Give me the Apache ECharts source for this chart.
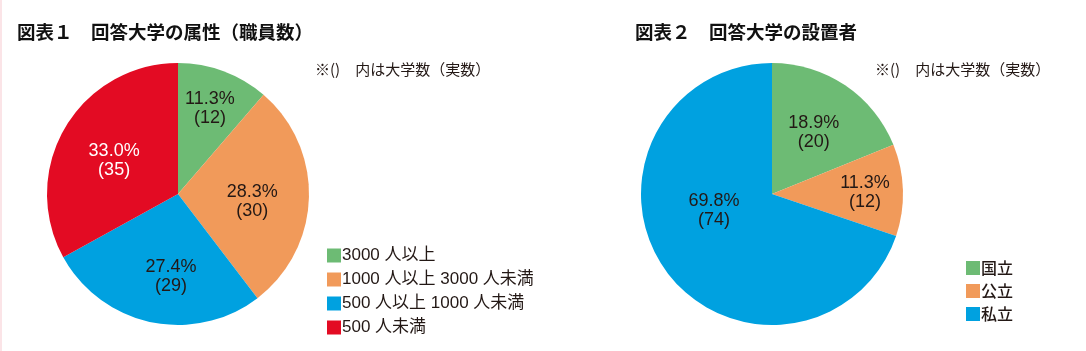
<!DOCTYPE html>
<html>
<head>
<meta charset="utf-8">
<script src="https://cdn.jsdelivr.net/npm/echarts@6/dist/echarts.min.js"></script>
<style>
html,body{margin:0;padding:0;background:#fff;}
#c{width:1086px;height:351px;}
</style>
</head>
<body>
<div id="c"></div>
<script>
// ---- data ----
const title1 = '図表１　回答大学の属性（職員数）';
const title2 = '図表２　回答大学の設置者';
const noteText = '※()　内は大学数（実数）';
const cats1 = ['3000 人以上', '1000 人以上 3000 人未満', '500 人以上 1000 人未満', '500 人未満'];
const vals1 = [12, 30, 29, 35];
const cats2 = ['国立', '公立', '私立'];
const vals2 = [20, 12, 74];

// ---- styles / layout ----
const colors1 = ['#6dbb74', '#f19a5a', '#00a1e0', '#e30b23'];
const colors2 = ['#6dbb74', '#f19a5a', '#00a1e0'];
const labelColors1 = ['#231815', '#231815', '#231815', '#ffffff'];
const labelColors2 = ['#231815', '#231815', '#231815'];
// [radial factor, angle shift in degrees] for label placement
const place1 = [[0.70, 0], [0.57, 4], [0.63, -7], [0.55, -3]];
const place2 = [[0.57, 0], [0.71, 1], [0.46, 20]];
const center1 = [178, 194], center2 = [772, 194], R = 131;
const numFont = '"Liberation Sans", "Noto Sans CJK JP", sans-serif';
const jpFont = '"Noto Sans CJK JP", sans-serif';

function sum(a) { return a.reduce((s, v) => s + v, 0); }

function makeLayout(vals, center, r, place) {
  const total = sum(vals);
  return function (p) {
    const i = p.dataIndex;
    let cum = 0;
    for (let k = 0; k < i; k++) cum += vals[k];
    const ang = ((cum + vals[i] / 2) / total * 360 + place[i][1]) * Math.PI / 180;
    const d = place[i][0] * r;
    return { x: center[0] + d * Math.sin(ang), y: center[1] - d * Math.cos(ang), align: 'center', verticalAlign: 'middle' };
  };
}

function makeData(cats, vals, colors, labelColors) {
  return cats.map((c, i) => ({
    name: c, value: vals[i],
    itemStyle: { color: colors[i] },
    label: { color: labelColors[i], rich: { p: { color: labelColors[i] }, n: { color: labelColors[i] } } }
  }));
}

function makeSeries(cats, vals, colors, labelColors, center, place) {
  const total = sum(vals);
  return {
    type: 'pie',
    center: center,
    radius: R,
    startAngle: 90,
    clockwise: true,
    silent: true,
    animation: false,
    itemStyle: { borderWidth: 0 },
    labelLine: { show: false },
    emphasis: { disabled: true },
    label: {
      show: true,
      position: 'inside',
      formatter: p => '{p|' + (p.value / total * 100).toFixed(1) + '%}\n{n|(' + p.value + ')}',
      rich: {
        p: { fontFamily: numFont, fontSize: 18, lineHeight: 19 },
        n: { fontFamily: numFont, fontSize: 18, lineHeight: 19 }
      }
    },
    labelLayout: makeLayout(vals, center, R, place),
    data: makeData(cats, vals, colors, labelColors)
  };
}

const chart = echarts.init(document.getElementById('c'), null, { renderer: 'canvas' });
chart.setOption({
  backgroundColor: '#ffffff',
  animation: false,
  title: [
    { text: title1, left: 17, top: 23, padding: 0, textStyle: { fontFamily: jpFont, fontSize: 18.5, fontWeight: 'bold', color: '#111' } },
    { text: title2, left: 635, top: 23, padding: 0, textStyle: { fontFamily: jpFont, fontSize: 18.5, fontWeight: 'bold', color: '#111' } },
    { text: noteText, left: 315, top: 62, padding: 0, textStyle: { fontFamily: jpFont, fontSize: 15, fontWeight: 'normal', color: '#231815' } },
    { text: noteText, left: 875, top: 62, padding: 0, textStyle: { fontFamily: jpFont, fontSize: 15, fontWeight: 'normal', color: '#231815' } }
  ],
  legend: [
    {
      orient: 'vertical', left: 327, top: 247, padding: 0,
      itemWidth: 14, itemHeight: 14, itemGap: 7, icon: 'rect',
      selectedMode: false,
      data: cats1,
      textStyle: { fontFamily: numFont, fontSize: 17, color: '#231815', padding: [0, 0, 0, -4] }
    },
    {
      orient: 'vertical', left: 966, top: 260, padding: 0,
      itemWidth: 14, itemHeight: 14, itemGap: 7, icon: 'rect',
      selectedMode: false,
      data: cats2,
      textStyle: { fontFamily: jpFont, fontSize: 16, fontWeight: 500, color: '#231815', padding: [0, 0, 0, -4] }
    }
  ],
  graphic: [
    { type: 'rect', left: 0, top: 0, shape: { width: 2, height: 351 }, style: { fill: '#fbe4e7' }, silent: true }
  ],
  series: [
    makeSeries(cats1, vals1, colors1, labelColors1, center1, place1),
    makeSeries(cats2, vals2, colors2, labelColors2, center2, place2)
  ]
});
</script>
</body>
</html>
